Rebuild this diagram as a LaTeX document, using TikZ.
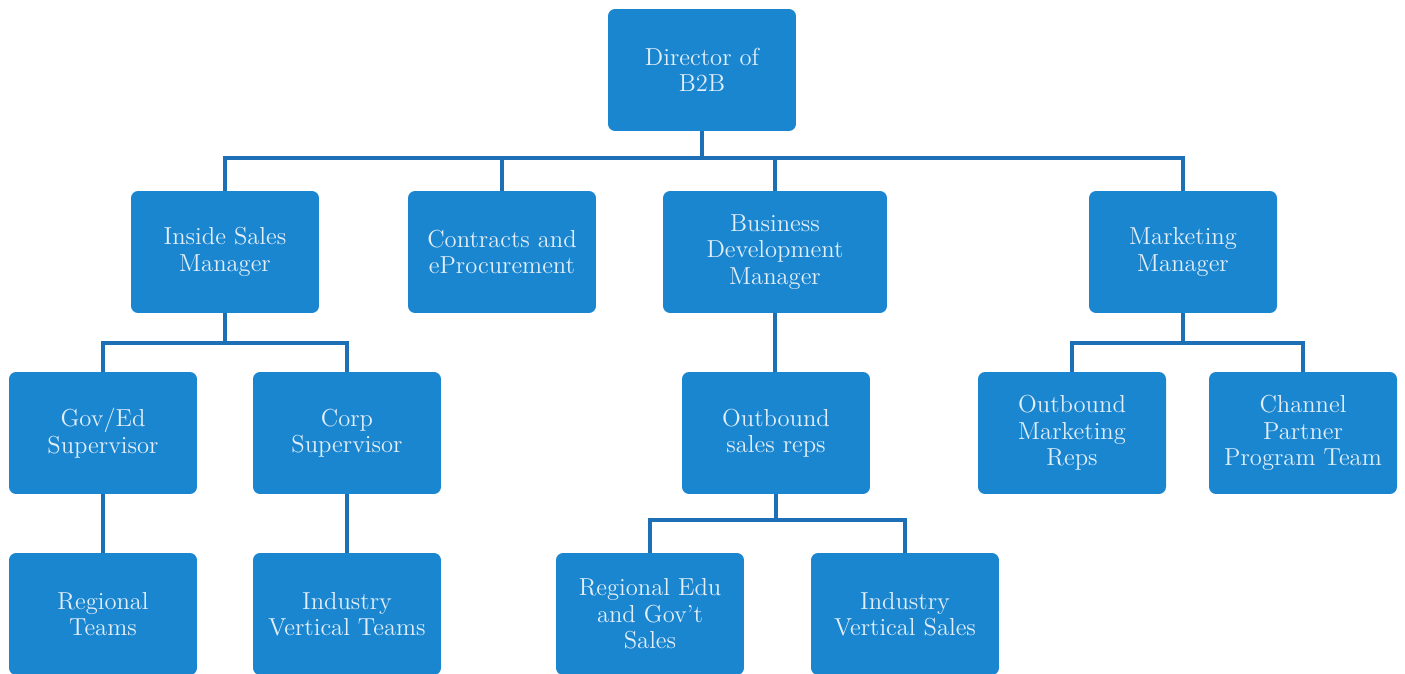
\documentclass[tikz,border=0pt]{standalone}
\usetikzlibrary{positioning,calc}
\definecolor{boxblue}{HTML}{1B86D0}
\definecolor{lineblue}{HTML}{1E70B6}
\definecolor{boxtext}{HTML}{E2EEF8}

\begin{document}
\begin{tikzpicture}[x=0.02cm,y=-0.02cm,
  orgbox/.style={fill=boxblue,rounded corners=4pt,minimum width=3.76cm,
                 minimum height=2.44cm,align=center,text=boxtext,
                 font=\fontsize{14}{15}\selectfont},
  link/.style={draw=lineblue,line width=2.2pt}]
  \useasboundingbox (0,0) rectangle (1405,673);

  % top
  \node[orgbox] (dir) at (702,70) {Director of\\B2B};

  % managers
  \node[orgbox] (ism) at (225,252) {Inside Sales\\Manager};
  \node[orgbox] (cep) at (502,252) {Contracts and\\eProcurement};
  \node[orgbox,minimum width=4.48cm] (bdm) at (775,252) {Business\\Development\\Manager};
  \node[orgbox] (mkm) at (1183,252) {Marketing\\Manager};

  % supervisors and reps
  \node[orgbox] (ged) at (103,433) {Gov/Ed\\Supervisor};
  \node[orgbox] (corp) at (347,433) {Corp\\Supervisor};
  \node[orgbox] (osr) at (776,433) {Outbound\\sales reps};
  \node[orgbox] (omr) at (1072,433) {Outbound\\Marketing\\Reps};
  \node[orgbox] (cpp) at (1303,433) {Channel\\Partner\\Program Team};

  % teams
  \node[orgbox] (reg) at (103,614) {Regional\\Teams};
  \node[orgbox] (ivt) at (347,614) {Industry\\Vertical Teams};
  \node[orgbox] (rey) at (650,614) {Regional Edu\\and Gov't\\Sales};
  \node[orgbox] (ivs) at (905,614) {Industry\\Vertical Sales};

  % connectors
  \coordinate (bus1) at (0,158);
  \coordinate (bus2) at (0,343);
  \coordinate (bus3) at (0,520);
  \draw[link] (dir.south) -- (dir.south |- bus1);
  \draw[link] (ism.north) -- (ism.north |- bus1) -- (mkm.north |- bus1) -- (mkm.north);
  \draw[link] (cep.north) -- (cep.north |- bus1);
  \draw[link] (bdm.north) -- (bdm.north |- bus1);

  \draw[link] (ism.south) -- (ism.south |- bus2);
  \draw[link] (ged.north) -- (ged.north |- bus2) -- (corp.north |- bus2) -- (corp.north);
  \draw[link] (mkm.south) -- (mkm.south |- bus2);
  \draw[link] (omr.north) -- (omr.north |- bus2) -- (cpp.north |- bus2) -- (cpp.north);
  \draw[link] (bdm.south) -- (bdm.south |- osr.north);

  \draw[link] (osr.south) -- (osr.south |- bus3);
  \draw[link] (rey.north) -- (rey.north |- bus3) -- (ivs.north |- bus3) -- (ivs.north);
  \draw[link] (ged.south) -- (reg.north);
  \draw[link] (corp.south) -- (ivt.north);
\end{tikzpicture}
\end{document}
